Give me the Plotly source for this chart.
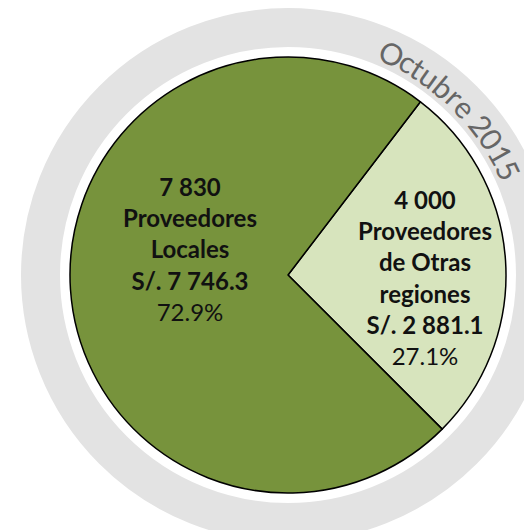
import math
import plotly.graph_objects as go

# data
categorias = ["Proveedores de Otras regiones", "Proveedores Locales"]
proveedores = ["4 000", "7 830"]
montos = [2881.1, 7746.3]
porcentajes = ["27.1%", "72.9%"]
periodo = "Octubre 2015"

colores = ["#D7E4BD", "#77933C"]
OFF = 8  # page body margin, so axis units match window pixels
W, H = 532 - OFF, 530 - OFF
cx, cy, r_pie = 288, 275, 218

fig = go.Figure()

fig.add_trace(go.Pie(
    values=montos,
    labels=categorias,
    sort=False,
    direction="clockwise",
    rotation=37.4,
    marker=dict(colors=colores, line=dict(color="black", width=1.5)),
    textinfo="none",
    hoverinfo="label+value+percent",
    showlegend=False,
    domain=dict(x=[(cx - r_pie - OFF) / W, (cx + r_pie - OFF) / W],
                y=[1 - (cy + r_pie - OFF) / H, 1 - (cy - r_pie - OFF) / H]),
))

# gray ring
r_ring = 247.5
fig.add_shape(type="circle", xref="x", yref="y",
              x0=cx - r_ring, x1=cx + r_ring, y0=cy - r_ring, y1=cy + r_ring,
              line=dict(color="#E3E3E3", width=39), layer="below")

# curved period text along ring
widths = {"O": 0.72, "c": 0.45, "t": 0.34, "u": 0.55, "b": 0.55, "r": 0.38,
          "e": 0.52, " ": 0.22, "2": 0.55, "0": 0.55, "1": 0.55, "5": 0.55}
ws = [widths.get(ch, 0.5) for ch in periodo]
centers = []
acc = 0
for w in ws:
    centers.append(acc + w / 2)
    acc += w
a0, a1 = 25.0, 64.5
for ch, c in zip(periodo, centers):
    ang = a0 + (c - centers[0]) / (centers[-1] - centers[0]) * (a1 - a0)
    t = math.radians(ang)
    fig.add_annotation(x=cx + 245 * math.sin(t), y=cy - 245 * math.cos(t),
                       xref="x", yref="y", text=ch, showarrow=False,
                       textangle=ang, xanchor="center", yanchor="middle",
                       font=dict(family="Lato", size=30, color="#666666"))

# slice labels
etiquetas = [
    (425, 277, "<b>%s<br>Proveedores<br>de Otras<br>regiones<br>S/. %s</b><br>%s"
     % (proveedores[0], f"{montos[0]:,.1f}".replace(",", " "), porcentajes[0])),
    (190, 249, "<b>%s<br>Proveedores<br>Locales<br>S/. %s</b><br>%s"
     % (proveedores[1], f"{montos[1]:,.1f}".replace(",", " "), porcentajes[1])),
]
for x, y, txt in etiquetas:
    fig.add_annotation(x=x, y=y, xref="x", yref="y", text=txt, showarrow=False,
                       xanchor="center", yanchor="middle", align="center",
                       font=dict(family="Lato", size=24, color="#111111"))

fig.update_xaxes(range=[OFF, W + OFF], visible=False, fixedrange=True)
fig.update_yaxes(range=[H + OFF, OFF], visible=False, fixedrange=True)
fig.update_layout(width=W, height=H, margin=dict(l=0, r=0, t=0, b=0),
                  paper_bgcolor="white", plot_bgcolor="white")

fig.write_html("out.html")
